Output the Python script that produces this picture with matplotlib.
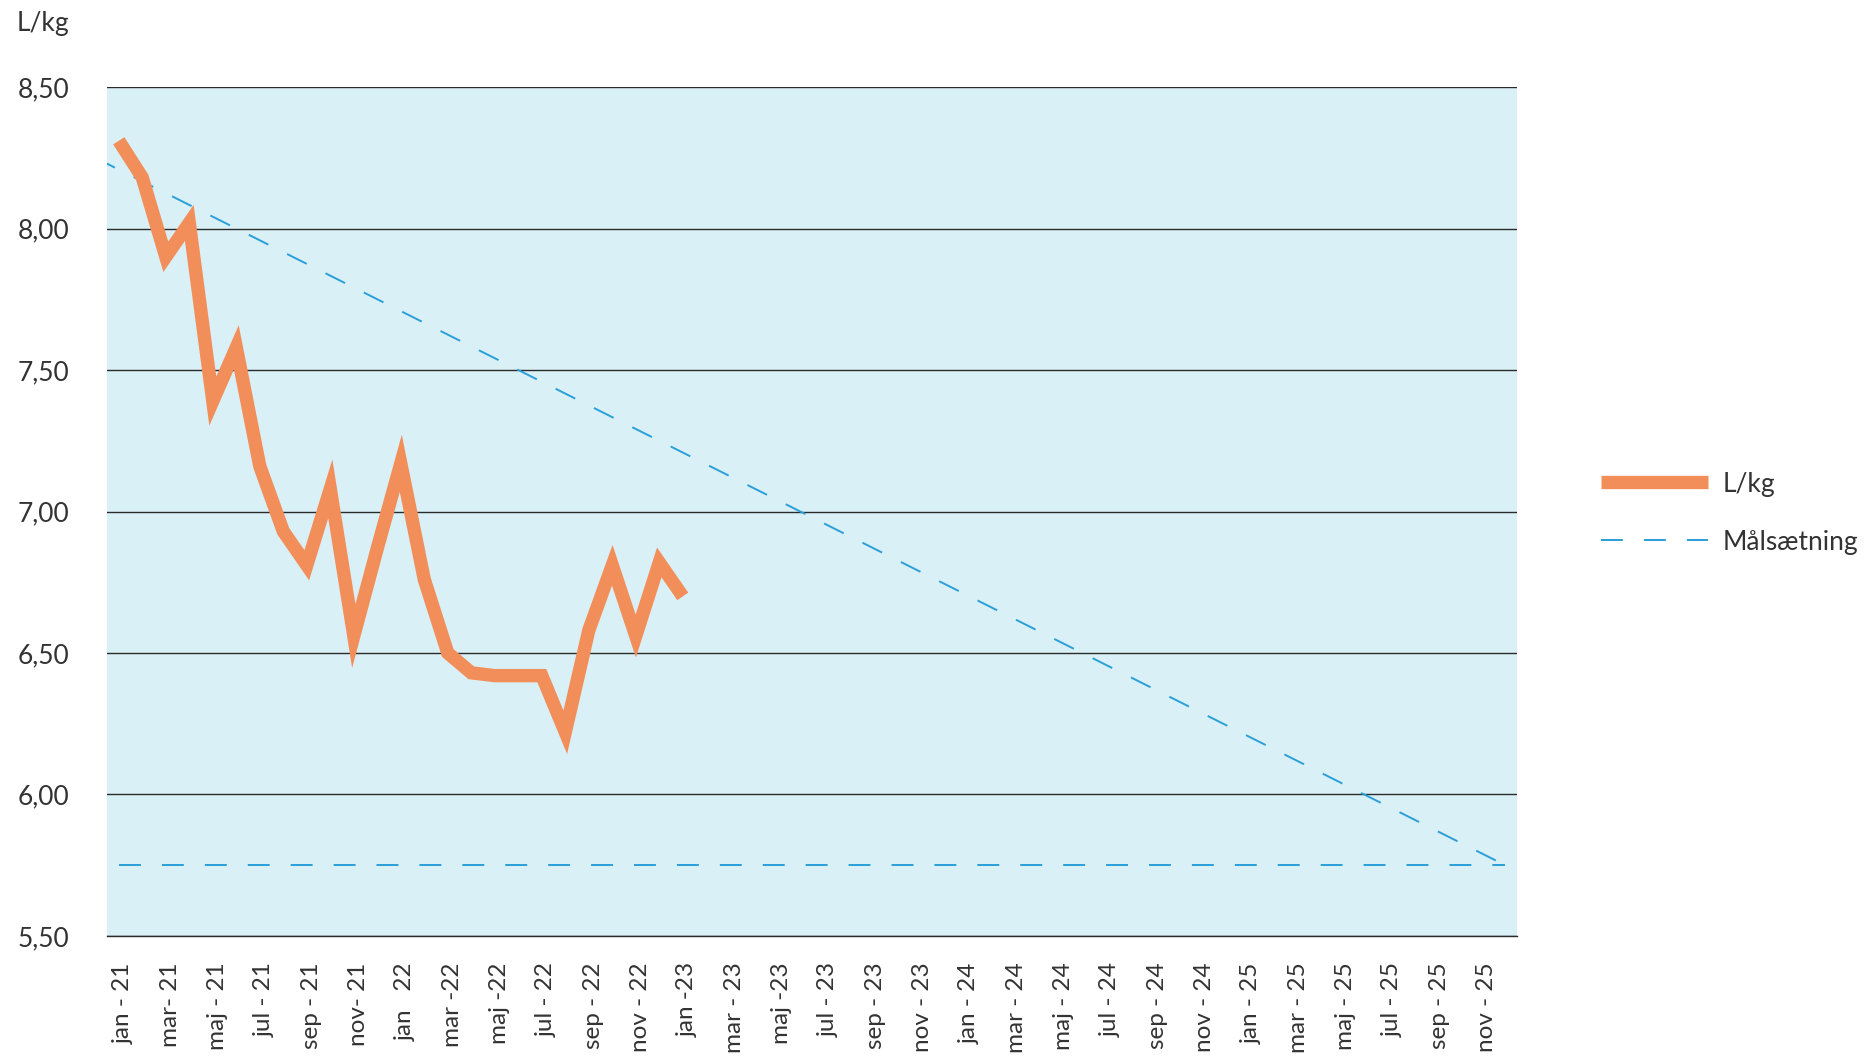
import matplotlib
matplotlib.use('Agg')
import matplotlib.pyplot as plt
import matplotlib.transforms as mtransforms
from matplotlib.ticker import FuncFormatter

# monthly L/kg, jan-21 .. jan-23
lkg = [8.31, 8.18, 7.90, 8.02, 7.39, 7.58, 7.16, 6.93, 6.81, 7.08, 6.56, 6.87,
       7.17, 6.76, 6.50, 6.43, 6.42, 6.42, 6.42, 6.22, 6.58, 6.81, 6.56, 6.82,
       6.70]

# target: straight line dec-20 -> dec-25, plus the final level
goal_x = [-1, 59]
goal_y = [8.25, 5.75]
floor_x = [0, 59]
floor_y = [5.75, 5.75]

n_months = 60
tick_labels = ['jan - 21', 'mar- 21', 'maj - 21', 'jul - 21', 'sep - 21', 'nov- 21',
               'jan   22', 'mar -22', 'maj -22', 'jul - 22', 'sep - 22', 'nov - 22',
               'jan -23', 'mar - 23', 'maj -23', 'jul - 23', 'sep - 23', 'nov - 23',
               'jan - 24', 'mar - 24', 'maj - 24', 'jul - 24', 'sep - 24', 'nov - 24',
               'jan - 25', 'mar - 25', 'maj - 25', 'jul - 25', 'sep - 25', 'nov - 25']
y_ticks = [5.5, 6.0, 6.5, 7.0, 7.5, 8.0, 8.5]

orange = '#F28E5A'
blue = '#2A9FD8'
txt = '#333333'

plt.rcParams['font.family'] = ['Lato', 'DejaVu Sans']
plt.rcParams['lines.scale_dashes'] = False

fig = plt.figure(figsize=(18.65, 10.60), dpi=100)
ax = fig.add_axes([0.0574, 0.1170, 0.756, 0.8009])
ax.set_facecolor('#DAF0F7')

dash = (15.8, 15.1)
ax.plot(goal_x, goal_y, color=blue, lw=1.4, dashes=dash, label='Målsætning')
ax.plot(floor_x, floor_y, color=blue, lw=1.4, dashes=dash)
ax.plot(range(len(lkg)), lkg, color=orange, lw=9.6, solid_joinstyle='miter',
        solid_capstyle='butt', label='L/kg', zorder=3)

ax.set_xlim(-0.5, n_months - 0.5)
ax.set_ylim(5.5, 8.5)
ax.set_yticks(y_ticks)
ax.yaxis.set_major_formatter(FuncFormatter(lambda v, p: f'{v:.2f}'.replace('.', ',')))
ax.set_xticks(range(0, n_months, 2))
ax.set_xticklabels(tick_labels, rotation=90)
ax.tick_params(axis='y', length=0, labelsize=19, colors=txt, pad=27)
ax.tick_params(axis='x', length=0, labelsize=17.5, colors=txt, pad=19)
shift = mtransforms.ScaledTranslation(5 / 100, 0, fig.dpi_scale_trans)
for lab in ax.get_xticklabels():
    lab.set_transform(lab.get_transform() + shift)
ax.grid(axis='y', color='#2b2b2b', lw=1.0)
ax.set_axisbelow(True)
for s in ax.spines.values():
    s.set_visible(False)
ax.spines['bottom'].set_visible(True)
ax.spines['bottom'].set_color('#2b2b2b')
ax.spines['bottom'].set_linewidth(1.0)

fig.text(17 / 1865, 1 - 24 / 1060, 'L/kg', fontsize=19, color=txt, va='center')

h, l = ax.get_legend_handles_labels()
fig.legend(h[::-1], l[::-1], loc='center left', bbox_to_anchor=(0.8585, 0.516),
           frameon=False, fontsize=19, handlelength=4.05, handletextpad=0.55,
           borderpad=0, borderaxespad=0, labelspacing=1.25, labelcolor=txt)

fig.savefig('out.png', dpi=100)
